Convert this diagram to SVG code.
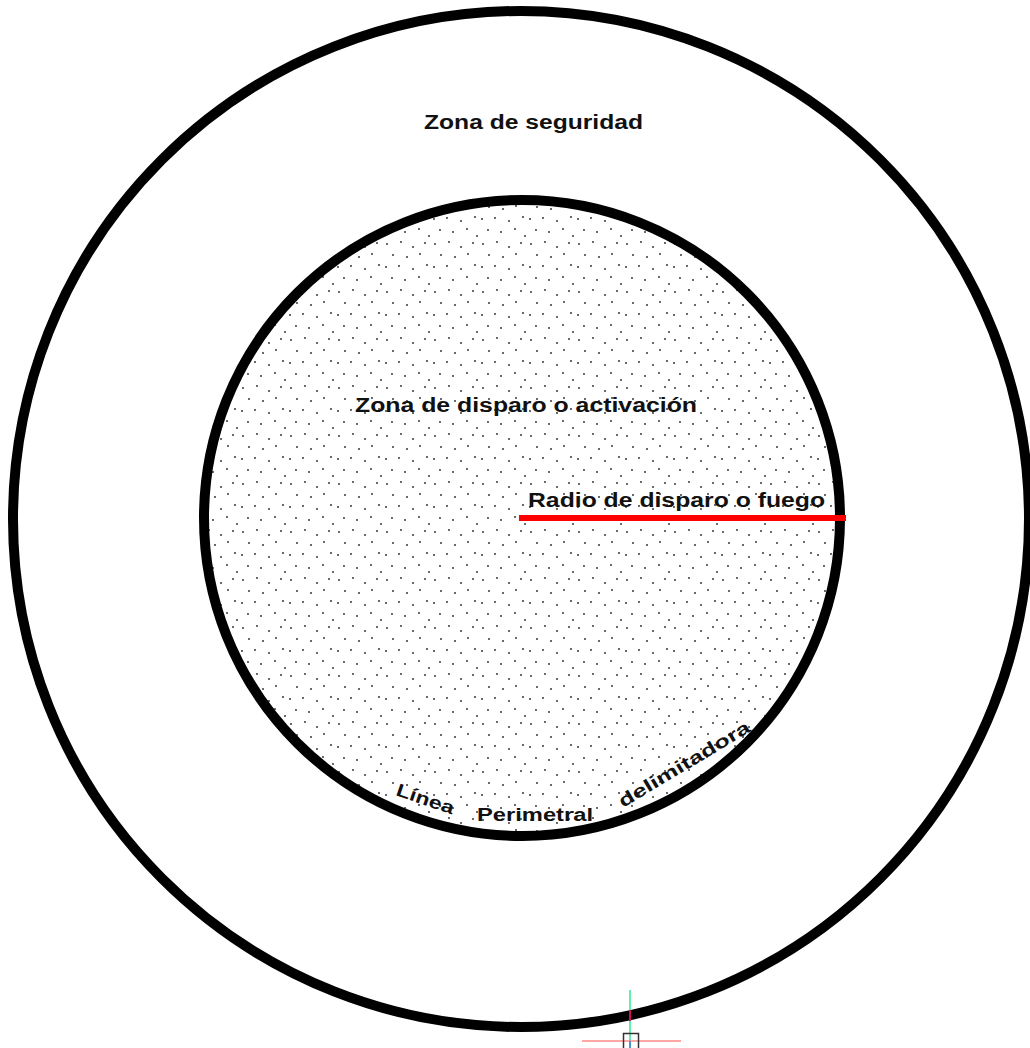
<svg xmlns="http://www.w3.org/2000/svg" width="1030" height="1048" viewBox="0 0 1030 1048">
<style>
.ring{fill:none;stroke:#000;stroke-width:10}
.lbl{font-family:"Liberation Sans",Arial,sans-serif;font-weight:bold;font-size:20px;fill:#111}
.small{font-size:18px}
</style>
<defs>
<pattern id="dots" x="0" y="0" width="48" height="48" patternUnits="userSpaceOnUse">
<g fill="#222">
<circle cx="3" cy="4" r="0.9"/><circle cx="17" cy="2" r="0.9"/><circle cx="29" cy="7" r="0.9"/><circle cx="41" cy="3" r="0.9"/>
<circle cx="9" cy="15" r="0.9"/><circle cx="23" cy="17" r="0.9"/><circle cx="36" cy="14" r="0.9"/>
<circle cx="2" cy="27" r="0.9"/><circle cx="15" cy="26" r="0.9"/><circle cx="29" cy="29" r="0.9"/><circle cx="43" cy="25" r="0.9"/>
<circle cx="8" cy="38" r="0.9"/><circle cx="21" cy="40" r="0.9"/><circle cx="35" cy="37" r="0.9"/><circle cx="45" cy="44" r="0.9"/>
</g>
</pattern>
</defs>
<rect width="1030" height="1048" fill="#fff"/>
<g id="zona-seguridad">
<circle class="ring" cx="521" cy="519" r="508"/>
<text class="lbl" x="424" y="129" textLength="219" lengthAdjust="spacingAndGlyphs">Zona de seguridad</text>
</g>
<g id="zona-disparo">
<circle cx="522" cy="518" r="318" fill="url(#dots)"/>
<circle class="ring" cx="522" cy="518" r="318"/>
<text class="lbl" x="355" y="412" textLength="342" lengthAdjust="spacingAndGlyphs">Zona de disparo o activación</text>
</g>
<g id="linea-perimetral">
<text class="lbl small" transform="translate(395,795) rotate(19)" textLength="60" lengthAdjust="spacingAndGlyphs">Línea</text>
<text class="lbl small" x="477" y="821" textLength="116" lengthAdjust="spacingAndGlyphs">Perimetral</text>
<text class="lbl small" transform="translate(623,808) rotate(-31)" textLength="150" lengthAdjust="spacingAndGlyphs">delimitadora</text>
</g>
<g id="connectors">
<line id="radio" x1="519" y1="518" x2="846" y2="518" stroke="#f00" stroke-width="6"/>
</g>
<g id="radio-label">
<text class="lbl" x="528" y="507" textLength="297" lengthAdjust="spacingAndGlyphs">Radio de disparo o fuego</text>
</g>
<g id="cursor">
<line x1="630" y1="990" x2="630" y2="1048" stroke="#2ee88a" stroke-width="1.5"/>
<line x1="630" y1="1010" x2="630" y2="1021" stroke="#d0105a" stroke-width="2"/>
<line x1="582" y1="1041" x2="681" y2="1041" stroke="#ff8a8a" stroke-width="1.5"/>
<rect x="623.5" y="1033.5" width="15" height="16" fill="none" stroke="#333" stroke-width="1.5"/>
<line x1="630" y1="1041" x2="630" y2="1048" stroke="#3a7be0" stroke-width="1.5"/>
</g>
</svg>
